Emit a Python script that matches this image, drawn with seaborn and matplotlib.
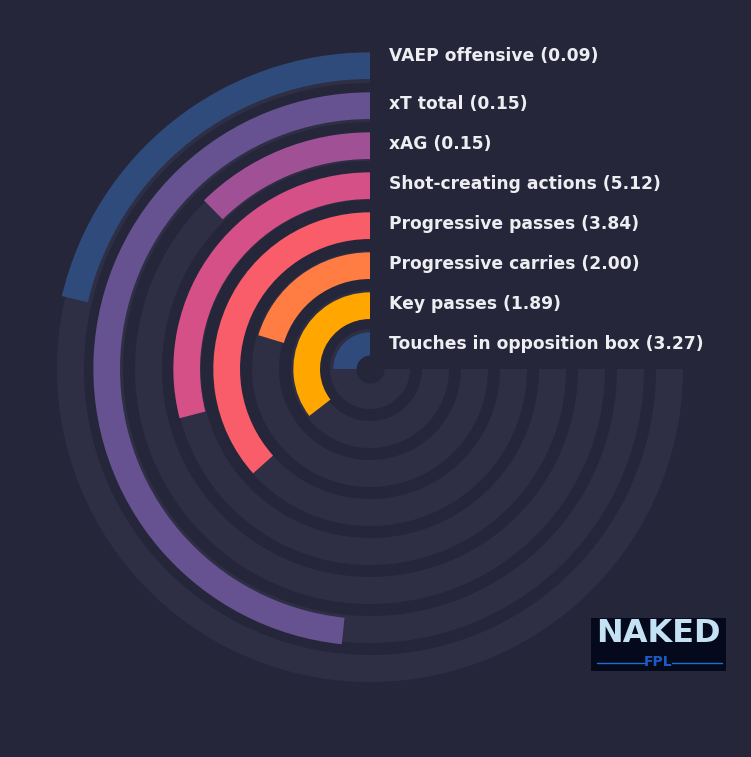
import numpy as np
import matplotlib
matplotlib.use('Agg')
import matplotlib.pyplot as plt
import seaborn as sns

bg_colour = '#25263a'
track_colour = '#2e2f44'
font_colour = '#eeeef2'

# Metrics from the outermost ring inwards
metrics = ['VAEP offensive', 'xT total', 'xAG', 'Shot-creating actions',
           'Progressive passes', 'Progressive carries', 'Key passes',
           'Touches in opposition box']
values = [0.09, 0.15, 0.15, 5.12, 3.84, 2.00, 1.89, 3.27]
# share of the 270 degree track each bar covers (percentile)
percentiles = [28.4, 64.5, 16.5, 38.7, 48.8, 27.1, 47.3, 33.3]

colours = ['#2f4b7c', '#665191', '#a05195', '#d45087', '#f95d6a', '#ff7c43', '#ffa600']

sns.set_style('dark', {'axes.facecolor': bg_colour, 'figure.facecolor': bg_colour})
plt.rcParams['font.family'] = ['DejaVu Sans']
palette = sns.color_palette(colours)

fig = plt.figure(figsize=(7.51, 7.57), dpi=100)
fig.patch.set_facecolor(bg_colour)

# polar axes placed so the centre lands at (370, 369) px
ring_px = 40.0
r_min = -0.583
r_max = 7.7
R = ring_px * (r_max - r_min)
cx, cy = 370, 757 - 369
ax = fig.add_axes([(cx - R) / 751, (cy - R) / 757, 2 * R / 751, 2 * R / 757],
                  projection='polar')
ax.set_theta_zero_location('N')
ax.set_theta_direction(1)
ax.set_ylim(r_min, r_max)

full_turn = 1.5 * np.pi
n = len(metrics)
for k, (name, val, pct) in enumerate(zip(metrics, values, percentiles)):
    r = n - 1 - k
    # background tracks sit on a slightly tighter spacing than the bars
    ax.barh(0.08 + 0.975 * r, full_turn, left=0, height=0.675,
            color=track_colour, linewidth=0)
    ax.barh(r, pct / 100 * full_turn, left=0, height=0.667,
            color=palette[k % len(palette)], linewidth=0)
    nudge = 10 if k == 0 else 1.5
    ax.annotate(name + ' (' + format(val, '.2f') + ')', xy=(0, r),
                xytext=(19, nudge), textcoords='offset pixels',
                ha='left', va='center', fontsize=12.3, fontweight='bold',
                color=font_colour)

# dark hole in the middle
theta = np.linspace(0, 2 * np.pi, 200)
ax.fill_between(theta, r_min, r_min + 0.35, color=bg_colour, linewidth=0, zorder=5)

ax.set_axis_off()

# Logo badge, bottom right
logo = fig.add_axes([591 / 751, 86 / 757, 135 / 751, 53 / 757])
logo.set_facecolor('#040a1c')
logo.set_xlim(0, 1)
logo.set_ylim(0, 1)
logo.set_xticks([])
logo.set_yticks([])
for s in logo.spines.values():
    s.set_visible(False)
logo.text(0.5, 0.70, 'NAKED', ha='center', va='center', fontsize=23,
          fontweight='bold', color='#c4e2f4')
logo.text(0.5, 0.17, 'FPL', ha='center', va='center', fontsize=10,
          fontweight='bold', color='#1d5bc4')
logo.plot([0.045, 0.40], [0.15, 0.15], color='#1f6fd0', linewidth=1)
logo.plot([0.60, 0.97], [0.15, 0.15], color='#1f6fd0', linewidth=1)

plt.savefig('out.png', dpi=100, facecolor=bg_colour)
